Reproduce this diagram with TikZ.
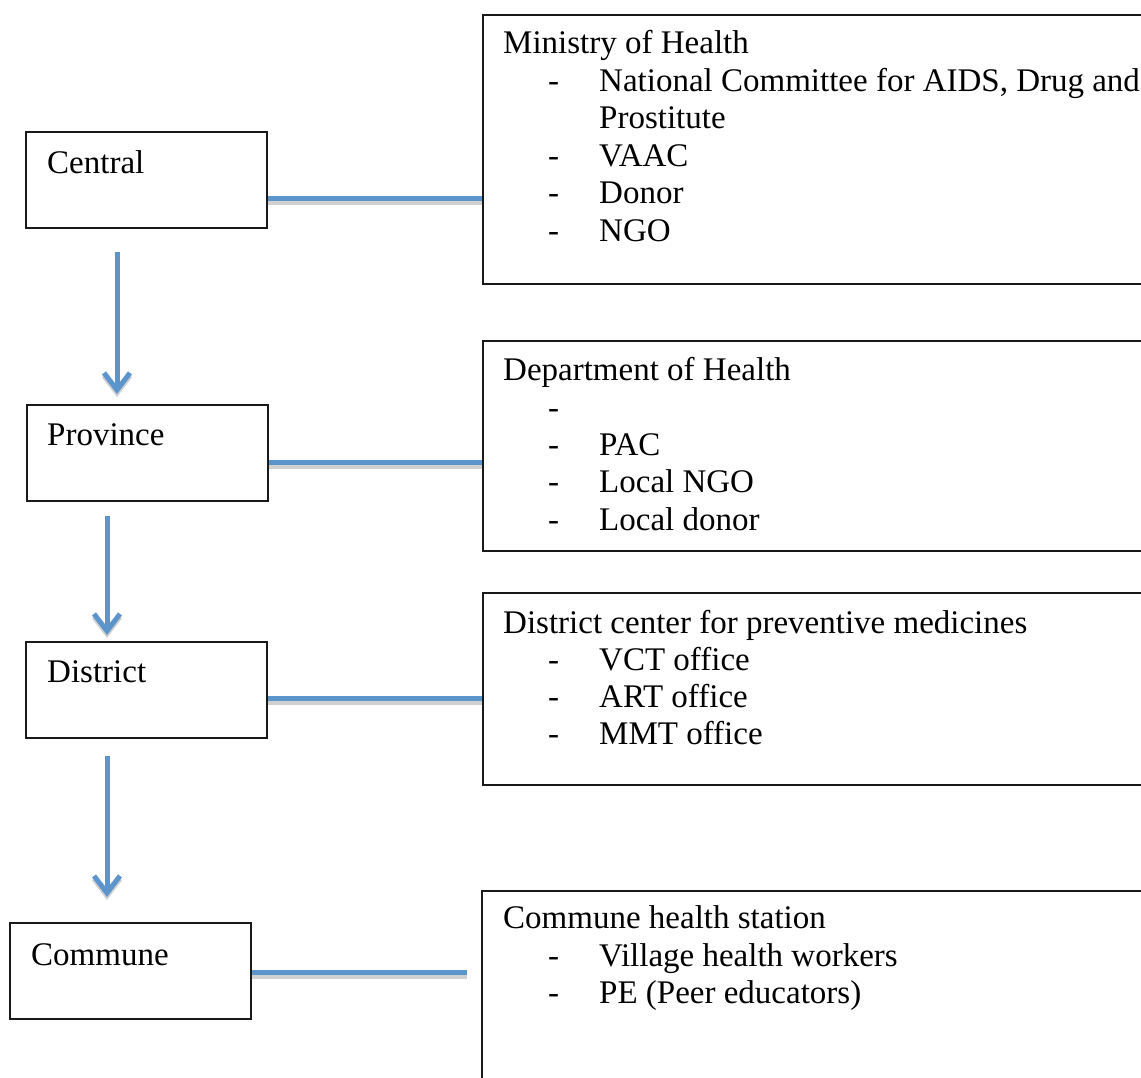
\documentclass[tikz,border=0pt]{standalone}
\usepackage{fontspec}
\setmainfont{Liberation Serif}
\usetikzlibrary{arrows.meta}
\definecolor{linkblue}{RGB}{92,148,204}
\definecolor{shadowgray}{RGB}{208,208,208}
\definecolor{boxline}{RGB}{25,25,25}
\tikzset{
  lbox/.style={draw=boxline, line width=2pt, minimum width=241pt, minimum height=96pt, inner sep=0pt},
  rbox/.style={draw=boxline, line width=2pt, inner sep=0pt, anchor=north west},
  txt/.style={anchor=base west, inner sep=0pt, font=\fontsize{33}{37.5}\selectfont},
  conn/.style={draw=linkblue, line width=5pt,
    preaction={draw=shadowgray, line width=5pt, transform canvas={yshift=-4pt}}},
  arr/.style={draw=linkblue, line width=5pt,
    -{Straight Barb[length=17pt, width=26pt]},
    preaction={draw=shadowgray, line width=5pt, transform canvas={yshift=-3pt}, -{Straight Barb[length=17pt, width=26pt]}}},
}
\begin{document}
\begin{tikzpicture}[x=1pt, y=-1pt]
\useasboundingbox (0,0) rectangle (1141,1077);
\clip (0,0) rectangle (1141,1077);

% left boxes
\node[lbox] (central)  at (146.5,180) {};
\node[lbox] (province) at (147,453) {};
\node[lbox] (district) at (146.5,690) {};
\node[lbox] (commune)  at (130.5,971) {};

\node[txt] (tcentral)  at (47,173) {Central};
\node[txt] (tprovince) at (47,445) {Province};
\node[txt] (tdistrict) at (47,682) {District};
\node[txt] (tcommune)  at (31,965) {Commune};

% right boxes
\node[rbox, minimum width=700pt, minimum height=269pt] (ministry)   at (482,14) {};
\node[rbox, minimum width=700pt, minimum height=210pt] (department) at (482,340) {};
\node[rbox, minimum width=700pt, minimum height=192pt] (dcenter)    at (482,592) {};
\node[rbox, minimum width=700pt, minimum height=230pt] (chs)        at (481,890) {};

% ministry text
\node[txt] (m0) at (503,53) {Ministry of Health};
\node[txt] (m1d) at (548,91) {-};
\node[txt] (m1) at (599,91) {National Committee for AIDS, Drug and};
\node[txt] (m2) at (599,128) {Prostitute};
\node[txt] (m3d) at (548,166) {-};
\node[txt] (m3) at (599,166) {VAAC};
\node[txt] (m4d) at (548,203) {-};
\node[txt] (m4) at (599,203) {Donor};
\node[txt] (m5d) at (548,241) {-};
\node[txt] (m5) at (599,241) {NGO};

% department text
\node[txt] (d0) at (503,380) {Department of Health};
\node[txt] (d1d) at (548,418) {-};
\node[txt] (d2d) at (548,455) {-};
\node[txt] (d2) at (599,455) {PAC};
\node[txt] (d3d) at (548,492) {-};
\node[txt] (d3) at (599,492) {Local NGO};
\node[txt] (d4d) at (548,530) {-};
\node[txt] (d4) at (599,530) {Local donor};

% district center text
\node[txt] (c0) at (503,633) {District center for preventive medicines};
\node[txt] (c1d) at (548,670) {-};
\node[txt] (c1) at (599,670) {VCT office};
\node[txt] (c2d) at (548,707) {-};
\node[txt] (c2) at (599,707) {ART office};
\node[txt] (c3d) at (548,744) {-};
\node[txt] (c3) at (599,744) {MMT office};

% commune health station text
\node[txt] (h0) at (503,928) {Commune health station};
\node[txt] (h1d) at (548,966) {-};
\node[txt] (h1) at (599,966) {Village health workers};
\node[txt] (h2d) at (548,1003) {-};
\node[txt] (h2) at (599,1003) {PE (Peer educators)};

% horizontal connectors
\draw[conn] (central.east |- 0,198) -- (ministry.west |- 0,198);
\draw[conn] (province.east |- 0,462) -- (department.west |- 0,462);
\draw[conn] (district.east |- 0,698) -- (dcenter.west |- 0,698);
\draw[conn, shorten >=14pt] (commune.east |- 0,972) -- (chs.west |- 0,972);

% vertical arrows
\coordinate (a1s) at ([xshift=-29.5pt]central.south);
\coordinate (a2s) at ([xshift=-40pt]province.south);
\coordinate (a3s) at ([xshift=-39.5pt]district.south);
\draw[arr, shorten <=23pt, shorten >=10pt] (a1s) -- (a1s |- province.north);
\draw[arr, shorten <=14pt, shorten >=6pt] (a2s) -- (a2s |- district.north);
\draw[arr, shorten <=17pt, shorten >=25pt] (a3s) -- (a3s |- commune.north);
\end{tikzpicture}
\end{document}
